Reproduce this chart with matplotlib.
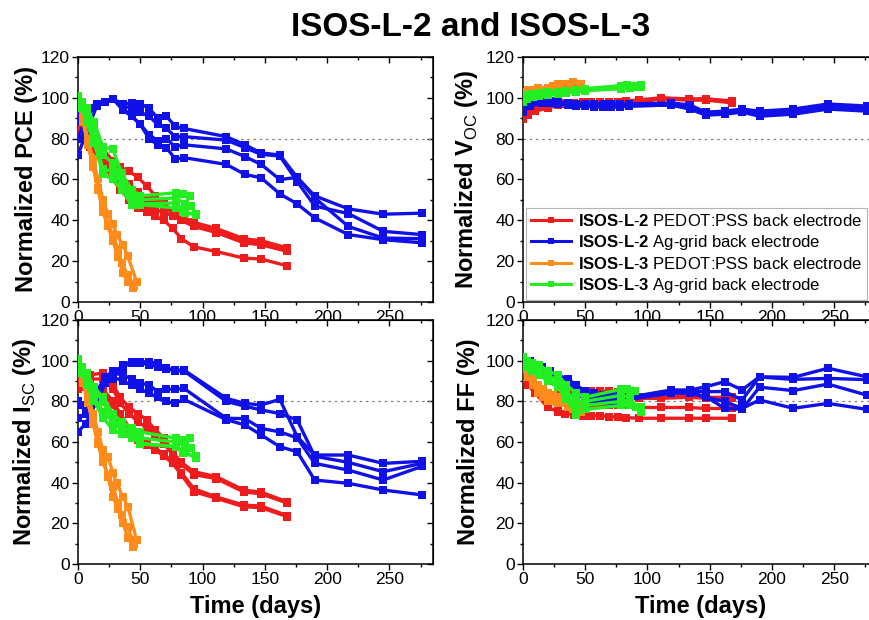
import matplotlib
matplotlib.use('Agg')
import matplotlib.pyplot as plt
from matplotlib.lines import Line2D
from matplotlib.ticker import MultipleLocator

plt.rcParams['font.family'] = ['Liberation Sans', 'DejaVu Sans']
plt.rcParams['mathtext.fontset'] = 'custom'
plt.rcParams['mathtext.rm'] = 'Liberation Sans'
plt.rcParams['mathtext.bf'] = 'Liberation Sans:bold'

# colours of the four sample groups
red = '#ee1c1c'
blue = '#1010e8'
orange = '#ff8c1a'
green = '#22ee22'

# ---- ISOS-L-2, PEDOT:PSS back electrode (red) ----
days_l2_pedot = [0, 4, 10, 20, 28, 34, 41, 48, 55, 62, 69, 76, 83, 93, 111, 133, 147, 168]
pce_l2_pedot = [
    [92, 88, 83, 75, 69, 66, 64, 61, 57, 52, 48, 45, 42, 39, 36, 31, 30, 26.5],
    [88, 85, 80, 72, 66, 62, 58, 54, 50, 48, 46, 44, 41, 38, 35, 30, 29, 25.5],
    [85, 82, 78, 70, 63, 58, 53, 49, 47, 45, 44, 42, 40, 37, 34, 29, 28, 24.8],
    [83, 80, 76, 68, 60, 55, 50, 46, 44, 42, 40, 36, 31, 27, 24.7, 21.5, 21, 17.7],
]
voc_l2_pedot = [
    [91, 93, 95, 96, 97, 97.5, 97.5, 98, 98, 98, 98, 98, 98.5, 99, 100, 99.5, 99.5, 98.5],
    [89.5, 92, 94, 95.5, 96.5, 97, 97, 97.5, 97.5, 97.5, 97.5, 97.5, 98, 98.5, 99.5, 99, 99, 98],
    [90, 91.5, 93.5, 95, 96.5, 97, 97, 97, 97, 97, 97, 97, 97.5, 98, 99.5, 99, 99, 97.5],
    [92, 93, 94.5, 96, 97, 97, 97.5, 97.5, 97.5, 97.5, 97.5, 97.5, 98, 98.5, 100, 99, 99.5, 98],
]
isc_l2_pedot = [
    [90, 92, 93, 94, 88, 82, 77, 74, 71, 66, 62, 55, 50, 45.4, 43, 36.4, 35.3, 30.6],
    [88, 90, 91, 91, 86, 79, 74, 70, 67, 63, 59, 54, 49, 44, 42, 35.5, 34.5, 30],
    [86, 87, 86, 84, 78, 72, 64, 61, 58.5, 56, 53, 49.5, 43.8, 35.6, 32.3, 28.2, 27.7, 23.3],
    [87, 88, 88, 86, 80, 74, 67, 63, 60, 57, 54, 50, 45, 37, 33, 29, 28.5, 23.8],
]
ff_l2_pedot = [
    [95, 92, 88, 84, 83, 85, 85, 85, 85, 85, 85, 84.5, 84, 82, 82, 82.5, 82, 82],
    [93, 90, 86, 80, 78, 79, 78, 78, 78, 78, 78, 78, 78, 77, 77, 77, 76.5, 76.5],
    [91, 88, 84, 77, 75, 74, 73.5, 73, 73, 73, 72.5, 72.5, 72, 71.7, 71.7, 71.7, 71.7, 71.7],
    [94, 91, 87, 82, 80, 83, 84, 84, 84, 84, 84, 83.5, 83, 81.5, 81.5, 82, 81.5, 81.5],
]

# ---- ISOS-L-2, Ag-grid back electrode (blue) ----
days_l2_ag = [0, 6, 15, 22, 28, 36, 43, 50, 57, 64, 71, 78, 85, 119, 134, 147, 162, 176, 190, 217, 245, 276]
pce_l2_ag = [
    [88, 94, 97, 98, 99.5, 97, 97.5, 97, 95, 90, 91, 86, 85, 81, 77, 73, 72, 61, 52, 45.6, 43, 43.5],
    [80, 90, 97, 98, 99.5, 96, 95, 93, 91, 87, 85, 81, 81, 79.3, 75.6, 72.3, 71.5, 59, 47, 43.3, 34.6, 33],
    [92, 95, 97, 98, 99.5, 95, 91, 87, 82, 79, 80, 76, 77, 75, 71.2, 67.4, 60, 61, 51, 37, 31.3, 31],
    [72, 82, 96, 98, 99.5, 94, 91, 87, 80, 77, 75.6, 70, 70.7, 67.4, 62.5, 60.8, 53, 48, 41.2, 33, 30.5, 29],
]
voc_l2_ag = [
    [95, 97, 98.5, 98.5, 98, 97.5, 97, 97, 97, 97, 97, 97, 97, 97.5, 96.5, 93, 93.5, 94.5, 93.5, 94.5, 97, 96],
    [94, 96.5, 98, 98, 97.5, 97, 96.5, 96.5, 96.5, 96.5, 96.5, 96.5, 96.5, 97, 95.5, 92.5, 93, 94, 92.5, 93.5, 96, 95],
    [93, 96, 97.5, 97.5, 97, 96.5, 96, 96, 96, 96, 96, 96, 96, 96.5, 95, 92, 92.5, 93.5, 91.5, 92.5, 95, 94],
    [96, 97, 98, 98, 97.5, 96.5, 96, 96, 95.5, 95.5, 95.5, 95.5, 96, 96.5, 94.5, 91.5, 92, 93, 91, 92, 94.5, 93.5],
]
isc_l2_ag = [
    [65, 69, 80, 89, 91, 98, 99.5, 99.5, 99.5, 98.7, 96.3, 95.5, 95.4, 81.5, 79, 78.2, 81, 62.6, 53.6, 53.6, 49.5, 50.5],
    [80, 78, 85, 92, 95, 97, 99, 99, 98, 97, 96, 95, 95, 80, 77.6, 75.8, 74, 70.8, 53, 50, 45.4, 49.5],
    [72, 74, 82, 90, 94, 93, 91, 89, 88, 84.8, 86, 86, 86.4, 71.7, 71.5, 66.7, 65, 62, 49.5, 46.2, 41.3, 48],
    [78, 76, 84, 90, 92, 90, 88, 86, 84, 82, 80, 79, 81, 71, 68.4, 63.5, 57.7, 55.2, 41.3, 39.7, 36.4, 34],
]
ff_l2_ag = [
    [101, 100, 97, 95, 93, 91, 88, 85, 84, 83, 83, 83, 82, 85.6, 85.6, 87.2, 89.7, 85.6, 92.1, 91.8, 96.3, 92.1],
    [100, 99, 96, 94, 92, 89, 86, 83, 82, 82, 82, 82, 82, 85, 85, 84.8, 84.8, 80.7, 92, 90.8, 91.3, 90.7],
    [99, 98, 95, 93, 91, 88, 85, 82, 81, 80.5, 80.5, 80.5, 81, 84.5, 84.5, 82.3, 76.6, 76.1, 87, 85.3, 88.5, 83.1],
    [100, 98, 96, 94, 91, 88, 84, 81, 80, 80, 80, 80, 81, 84, 84, 82, 80, 76.5, 80.7, 76.6, 79, 76.1],
]

# ---- ISOS-L-3, PEDOT:PSS back electrode (orange) ----
days_l3_pedot = [
    [0, 4, 8, 12, 16, 20, 24, 28, 32, 36, 40, 44],
    [0, 4, 8, 12, 16, 20, 24, 28, 31, 36, 40, 47],
    [0, 4, 8, 12, 16, 20, 24, 28, 32, 35, 40, 45],
]
pce_l3_pedot = [
    [100, 89, 78, 67, 55, 44, 37, 30, 22, 14, 10, 6.7],
    [101, 90, 80, 70, 60, 50, 43, 38, 33, 28, 22.3, 10],
    [99, 88, 77, 66, 56, 46, 38, 33, 26, 19, 13, 8],
]
voc_l3_pedot = [
    [101, 102, 103, 103, 102, 103, 104, 105, 104, 105, 106, 106],
    [102, 103, 104, 104, 103, 104, 105, 106, 105, 106, 107, 107],
    [103, 104, 104, 105, 104, 105, 106, 107, 106, 107, 108, 107],
]
isc_l3_pedot = [
    [100, 90, 80, 70, 60, 52, 43, 33, 27, 20, 13, 8.5],
    [101, 92, 83, 74, 65, 56, 52.8, 45, 39.7, 33, 28.2, 11.8],
    [99, 89, 79, 69, 59, 50, 44, 38, 30, 24, 18, 10],
]
ff_l3_pedot = [
    [98, 94, 90, 87, 84, 82, 80, 80, 79, 78, 77, 76],
    [96, 92, 88, 84, 82, 80, 80, 79, 79, 77, 76, 75],
    [99, 95, 91, 88, 86, 84, 83, 82, 81, 80, 79, 77],
]

# ---- ISOS-L-3, Ag-grid back electrode (green) ----
days_l3_ag = [
    [0, 3, 7, 13, 20, 28, 35, 43, 50, 79, 84, 90],
    [0, 3, 7, 13, 20, 28, 35, 43, 50, 79, 86, 91],
    [0, 3, 7, 13, 20, 28, 35, 43, 50, 79, 86, 95],
    [0, 3, 7, 13, 20, 28, 35, 43, 50, 79, 84, 95],
]
pce_l3_ag = [
    [100, 98, 95, 88, 76, 74.8, 63, 55, 52, 53.5, 53, 51.8],
    [99, 96, 92, 85, 72, 68, 60, 52, 50, 51, 48, 46.9],
    [101, 97, 90, 80, 65, 64, 58, 48, 48, 48.5, 43.6, 42.8],
    [98, 95, 88, 78, 62.5, 60, 55, 47.7, 47.7, 46, 44, 43],
]
voc_l3_ag = [
    [100, 101, 101.5, 102, 102, 102.5, 103, 103.5, 104, 105.5, 106, 106],
    [99, 100, 101, 101.5, 102, 102.5, 103, 103.5, 104, 105, 105.5, 105.5],
    [98, 99.5, 100.5, 101, 101.5, 102, 102.5, 103, 103.5, 104.5, 105, 105.5],
    [101, 101.5, 102, 102.5, 103, 103, 103.5, 104, 104.5, 106, 106.5, 106.5],
]
isc_l3_ag = [
    [100, 97, 94, 87, 82, 74, 70, 67, 65, 61.8, 61, 61.8],
    [101, 96, 92, 86, 79.8, 70.8, 68, 65, 62, 60, 58, 57],
    [99, 95, 89, 82, 75, 70, 66, 63, 59.4, 57.7, 55, 52],
    [98, 94, 88, 80, 72, 66, 64, 62, 59, 57.7, 54.4, 53],
]
ff_l3_ag = [
    [102, 100, 99, 98, 95, 93, 88, 84, 82, 86, 86, 85],
    [101, 99, 97, 96, 93, 90, 85, 80, 80, 83, 82, 77],
    [100, 98, 96, 94, 91, 88, 83, 77, 78, 80, 78, 75],
    [99, 97, 95, 93, 90, 87, 81, 73.5, 76, 78, 79, 77.4],
]

legend_labels = [
    r'$\mathbf{ISOS}$-$\mathbf{L}$-$\mathbf{2}$ PEDOT:PSS back electrode',
    r'$\mathbf{ISOS}$-$\mathbf{L}$-$\mathbf{2}$ Ag-grid back electrode',
    r'$\mathbf{ISOS}$-$\mathbf{L}$-$\mathbf{3}$ PEDOT:PSS back electrode',
    r'$\mathbf{ISOS}$-$\mathbf{L}$-$\mathbf{3}$ Ag-grid back electrode',
]


def draw_group(ax, days, series, color):
    for i, vals in enumerate(series):
        d = days[i] if isinstance(days[0], list) else days
        ax.plot(d, vals, color=color, lw=2.4, marker='s', markersize=5.5,
                markeredgewidth=0, zorder=3)


def style_axes(ax):
    ax.set_xlim(0, 285)
    ax.set_ylim(0, 120)
    ax.xaxis.set_major_locator(MultipleLocator(50))
    ax.xaxis.set_minor_locator(MultipleLocator(25))
    ax.yaxis.set_major_locator(MultipleLocator(20))
    ax.yaxis.set_minor_locator(MultipleLocator(10))
    ax.tick_params(which='both', direction='out', labelsize=12.5, width=1, pad=2)
    ax.tick_params(which='major', length=4)
    ax.tick_params(which='minor', length=2.5)
    for sp in ax.spines.values():
        sp.set_linewidth(1.1)
    # inward mirror ticks on top and right
    top = ax.secondary_xaxis('top')
    top.xaxis.set_major_locator(MultipleLocator(50))
    top.xaxis.set_minor_locator(MultipleLocator(25))
    top.tick_params(axis='x', which='both', direction='in', labeltop=False, width=1)
    top.tick_params(which='major', length=4)
    top.tick_params(which='minor', length=2.5)
    right = ax.secondary_yaxis('right')
    right.yaxis.set_major_locator(MultipleLocator(20))
    right.yaxis.set_minor_locator(MultipleLocator(10))
    right.tick_params(axis='y', which='both', direction='in', labelright=False, width=1)
    right.tick_params(which='major', length=4)
    right.tick_params(which='minor', length=2.5)
    ax.axhline(80, color='#808080', ls=(0, (2, 3)), lw=0.9, zorder=1)


fig = plt.figure(figsize=(8.7, 6.2), dpi=100)
ax_pce = fig.add_axes([0.0897, 0.513, 0.408, 0.395])
ax_voc = fig.add_axes([0.601, 0.513, 0.408, 0.395])
ax_isc = fig.add_axes([0.0897, 0.0903, 0.408, 0.3935])
ax_ff = fig.add_axes([0.601, 0.0903, 0.408, 0.3935])

panels = [
    (ax_pce, pce_l2_pedot, pce_l2_ag, pce_l3_pedot, pce_l3_ag, 'Normalized PCE (%)'),
    (ax_voc, voc_l2_pedot, voc_l2_ag, voc_l3_pedot, voc_l3_ag, r'Normalized V$_{\mathrm{OC}}$ (%)'),
    (ax_isc, isc_l2_pedot, isc_l2_ag, isc_l3_pedot, isc_l3_ag, r'Normalized I$_{\mathrm{SC}}$ (%)'),
    (ax_ff, ff_l2_pedot, ff_l2_ag, ff_l3_pedot, ff_l3_ag, 'Normalized FF (%)'),
]

for ax, s_red, s_blue, s_orange, s_green, ylab in panels:
    style_axes(ax)
    draw_group(ax, days_l2_pedot, s_red, red)
    draw_group(ax, days_l2_ag, s_blue, blue)
    draw_group(ax, days_l3_pedot, s_orange, orange)
    draw_group(ax, days_l3_ag, s_green, green)
    ax.set_ylabel(ylab, fontsize=17, fontweight='bold')

ax_pce.yaxis.set_label_coords(-0.113, 0.5)
ax_isc.yaxis.set_label_coords(-0.113, 0.5)
ax_voc.yaxis.set_label_coords(-0.121, 0.5)
ax_ff.yaxis.set_label_coords(-0.121, 0.5)

for ax in (ax_isc, ax_ff):
    ax.set_xlabel('Time (days)', fontsize=17, fontweight='bold')
    ax.xaxis.set_label_coords(0.5, -0.125)

handles = [Line2D([], [], color=c, lw=2.2, marker='s', markersize=4, markeredgewidth=0)
           for c in (red, blue, orange, green)]
leg = ax_voc.legend(handles, legend_labels, loc='upper left', bbox_to_anchor=(0.01, 0.385),
                    borderaxespad=0, fontsize=12, frameon=True, fancybox=False,
                    edgecolor='#b4b4b4', framealpha=1, borderpad=0.3, labelspacing=0.25,
                    handlelength=2.4, handletextpad=0.4)
leg.get_frame().set_linewidth(0.8)

fig.text(0.541, 0.956, 'ISOS-L-2 and ISOS-L-3', ha='center', va='center',
         fontsize=24, fontweight='bold')

fig.savefig('out.png', dpi=100, facecolor='white')
